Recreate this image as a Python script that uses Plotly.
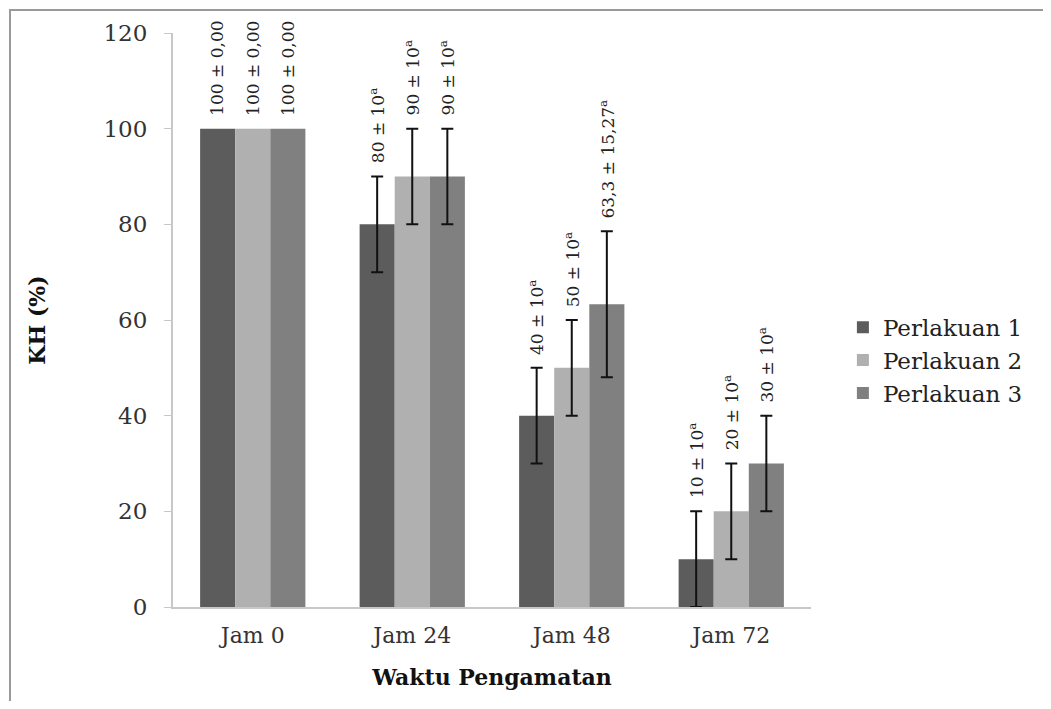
import plotly.graph_objects as go

categories = ["Jam 0", "Jam 24", "Jam 48", "Jam 72"]
series_names = ["Perlakuan 1", "Perlakuan 2", "Perlakuan 3"]
p1_mean = [100, 80, 40, 10]
p2_mean = [100, 90, 50, 20]
p3_mean = [100, 90, 63.3, 30]
p1_sd = [0, 10, 10, 10]
p2_sd = [0, 10, 10, 10]
p3_sd = [0, 10, 15.27, 10]
p1_labels = ["100 ± 0,00", "80 ± 10<sup>a</sup>", "40 ± 10<sup>a</sup>", "10 ± 10<sup>a</sup>"]
p2_labels = ["100 ± 0,00", "90 ± 10<sup>a</sup>", "50 ± 10<sup>a</sup>", "20 ± 10<sup>a</sup>"]
p3_labels = ["100 ± 0,00", "90 ± 10<sup>a</sup>", "63,3 ± 15,27<sup>a</sup>", "30 ± 10<sup>a</sup>"]
y_ticks = [0, 20, 40, 60, 80, 100, 120]

colors = ["#5c5c5c", "#b0b0b0", "#808080"]
FONT = "DejaVu Serif"
bargap = 0.34

means = [p1_mean, p2_mean, p3_mean]
sds = [p1_sd, p2_sd, p3_sd]
labels = [p1_labels, p2_labels, p3_labels]

fig = go.Figure()
for k in range(3):
    fig.add_trace(go.Bar(
        name=series_names[k], x=categories, y=means[k],
        marker=dict(color=colors[k], line=dict(width=0)),
        error_y=dict(type="data", array=[s if s else "NaN" for s in sds[k]],
                     color="#111111", thickness=2, width=6, visible=True),
    ))

w = (1 - bargap) / 3
for k in range(3):
    for i in range(len(categories)):
        fig.add_annotation(
            x=i + (k - 1) * w, y=means[k][i] + sds[k][i],
            xref="x", yref="y", text=labels[k][i], textangle=-90,
            showarrow=False, xanchor="center", yanchor="bottom", yshift=11,
            font=dict(family=FONT, size=17, color="#222222"),
        )

# figure sits at (8,8) in the page; plot area in figure coords: x 165..803, y 25..599
fig.add_shape(type="rect", xref="paper", yref="paper",
              x0=(2 - 165) / 638, x1=(1060 - 165) / 638,
              y0=(599 - 697) / 574, y1=(599 - 2) / 574,
              line=dict(color="#9a9a9a", width=2), layer="below")

fig.update_layout(
    width=1035, height=693,
    margin=dict(l=165, r=232, t=25, b=94),
    paper_bgcolor="white", plot_bgcolor="white",
    barmode="group", bargap=bargap, bargroupgap=0,
    font=dict(family=FONT, size=22, color="#333333"),
    showlegend=True,
    legend=dict(x=1.05, y=0.43, xanchor="left", yanchor="middle",
                font=dict(family=FONT, size=23, color="#222222"),
                bgcolor="rgba(0,0,0,0)", itemwidth=30),
    xaxis=dict(showline=True, linecolor="#c8c8c8", linewidth=2,
               ticks="", showgrid=False, tickfont=dict(size=22, color="#333333"),
               ticklabelstandoff=8,
               title=dict(text="<b>Waktu Pengamatan</b>", font=dict(size=22, color="#111111"), standoff=22)),
    yaxis=dict(range=[0, 120], tickvals=y_ticks, showline=True, linecolor="#c8c8c8", linewidth=2,
               ticks="outside", ticklen=7, tickcolor="#c8c8c8", showgrid=False, zeroline=False,
               tickfont=dict(size=23, color="#333333"), ticklabelstandoff=12,
               title=dict(text="<b>KH (%)</b>", font=dict(size=22, color="#111111"), standoff=52)),
)

fig.write_html("out.html")
